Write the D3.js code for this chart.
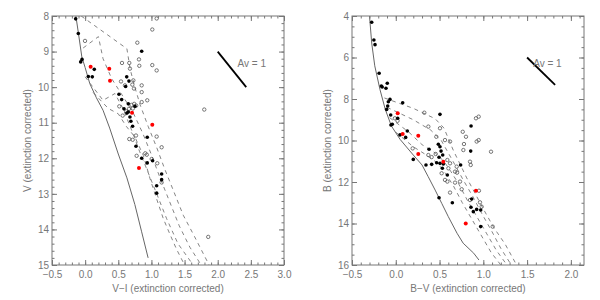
<!DOCTYPE html>
<html>
<head>
<meta charset="utf-8">
<script src="https://cdn.jsdelivr.net/npm/d3@7"></script>
<style>
  body { margin: 0; background: #fff; }
  svg text { font-family: "Liberation Sans", Arial, sans-serif; font-size: 10px; fill: #777; }
</style>
</head>
<body>
<div id="chart"></div>
<script>
const width = 600;
const height = 300;

// ---- left panel: V vs V-I ----
const leftZams = [[-0.14, 8.0], [-0.10, 8.5], [-0.05, 9.15], [0.0, 9.45], [0.07, 9.9], [0.17, 10.3], [0.27, 10.65],
  [0.37, 11.15], [0.5, 11.88], [0.63, 12.55], [0.75, 13.3], [0.85, 14.05], [0.95, 14.8]];
const leftIsochrones = [
  [[-0.06, 8.0], [0.63, 8.92], [0.68, 9.5], [0.75, 10.0], [0.83, 10.5], [0.95, 11.1], [1.08, 11.7], [1.2, 12.3],
    [1.33, 12.9], [1.48, 13.6], [1.65, 14.2], [1.87, 15.0]],
  [[-0.03, 8.9], [0.2, 8.58], [0.27, 9.2], [0.4, 9.76], [0.55, 10.2], [0.72, 10.7], [0.87, 11.3], [1.0, 11.9],
    [1.12, 12.5], [1.27, 13.2], [1.42, 13.9], [1.58, 14.5], [1.75, 15.0]],
  [[0.0, 9.71], [0.27, 10.37], [0.45, 10.18], [0.57, 10.6], [0.7, 11.2], [0.82, 11.8], [0.95, 12.4], [1.08, 13.0],
    [1.23, 13.7], [1.4, 14.4], [1.63, 15.0]],
  [[0.12, 10.15], [0.35, 10.6], [0.5, 10.75], [0.62, 11.1], [0.75, 11.4], [0.88, 11.93], [0.98, 12.58],
    [1.08, 13.15], [1.18, 13.7], [1.28, 14.14], [1.38, 14.56], [1.5, 15.0]]
];
const leftFilled = [[-0.143, 8.08], [-0.103, 8.49], [-0.067, 9.29], [-0.047, 9.22], [0.048, 9.7], [0.108, 9.71],
  [0.138, 9.5], [0.853, 8.99], [0.627, 9.71], [0.661, 9.83], [0.611, 9.98], [0.51, 10.2], [0.551, 10.35],
  [0.651, 10.47], [0.752, 10.54], [0.586, 10.61], [0.651, 10.7], [0.676, 10.84], [0.63, 10.73], [0.69, 10.96],
  [0.716, 11.1], [0.937, 11.41], [0.767, 11.66], [0.853, 12.0], [0.937, 12.13], [1.018, 12.07], [1.154, 12.44],
  [1.154, 12.6], [1.079, 12.77], [1.079, 12.98]];
const leftOpen = [[-0.002, 8.7], [1.079, 8.07], [1.013, 8.38], [0.787, 8.75], [0.812, 9.22], [0.556, 9.32],
  [0.666, 9.32], [0.676, 9.48], [0.817, 9.4], [1.013, 9.38], [1.079, 9.53], [0.541, 9.84], [0.601, 9.95],
  [0.727, 9.81], [0.712, 9.93], [0.737, 10.04], [0.853, 9.95], [0.853, 10.14], [0.937, 10.37], [0.853, 10.42],
  [0.515, 10.54], [0.566, 10.8], [0.661, 10.61], [0.7, 10.5], [0.74, 10.47], [0.77, 10.52], [0.62, 10.68],
  [0.72, 10.6], [1.797, 10.63], [0.666, 11.46], [0.717, 11.48], [0.767, 11.36], [1.079, 11.39], [1.154, 11.69],
  [0.777, 11.93], [0.907, 11.86], [0.93, 11.9], [1.004, 12.02], [1.088, 12.14], [1.154, 12.68], [1.857, 14.21]];
const leftRed = [[0.083, 9.43], [0.364, 9.48], [0.375, 9.82], [0.707, 10.72], [1.013, 11.06], [0.812, 12.27]];
const leftAv = [[2.0, 9.0], [2.43, 10.0]];
const leftXTicks = [-0.5, 0.0, 0.5, 1.0, 1.5, 2.0, 2.5, 3.0];
const leftYTicks = [8, 9, 10, 11, 12, 13, 14, 15];

// ---- right panel: B vs B-V ----
const rightZams = [[-0.30, 4.0], [-0.275, 5.3], [-0.24, 6.4], [-0.18, 7.55], [-0.12, 8.5], [-0.05, 9.3],
  [0.05, 9.95], [0.2, 10.7], [0.3, 11.18], [0.37, 11.74], [0.45, 12.39], [0.525, 13.03], [0.6, 13.67],
  [0.7, 14.47], [0.77, 14.95], [0.89, 15.43], [0.95, 15.76]];
const rightIsochrones = [
  [[-0.13, 7.95], [0.2, 8.45], [0.45, 8.95], [0.55, 9.4], [0.6, 9.9], [0.66, 10.5], [0.73, 11.1], [0.81, 11.8],
    [0.9, 12.5], [1.0, 13.3], [1.12, 14.2], [1.25, 15.0], [1.38, 16.0]],
  [[-0.1, 8.4], [0.2, 9.0], [0.4, 9.5], [0.52, 10.0], [0.6, 10.6], [0.68, 11.2], [0.77, 11.9], [0.88, 12.7],
    [0.98, 13.5], [1.1, 14.4], [1.2, 15.2], [1.32, 16.0]],
  [[-0.07, 8.9], [0.15, 9.6], [0.3, 10.2], [0.45, 10.6], [0.55, 11.0], [0.63, 11.5], [0.72, 12.1], [0.82, 12.9],
    [0.93, 13.7], [1.04, 14.5], [1.15, 15.3], [1.27, 16.0]],
  [[0.0, 9.6], [0.2, 10.3], [0.35, 10.7], [0.48, 11.1], [0.57, 11.6], [0.66, 12.2], [0.76, 13.0], [0.87, 13.8],
    [0.98, 14.6], [1.09, 15.4], [1.2, 16.0]]
];
const rightFilled = [[-0.275, 4.3], [-0.25, 5.16], [-0.237, 5.38], [-0.19, 6.76], [-0.165, 7.37], [-0.155, 7.42],
  [-0.112, 7.48], [-0.097, 7.24], [-0.066, 8.02], [-0.085, 8.13], [-0.092, 8.34], [-0.104, 8.5], [-0.058, 8.77],
  [0.022, 8.93], [0.079, 8.18], [-0.055, 9.25], [-0.04, 9.22], [0.048, 9.73], [0.113, 9.85], [0.132, 9.54],
  [0.505, 8.74], [0.2, 10.91], [0.38, 10.42], [0.345, 11.18], [0.41, 11.15], [0.486, 10.18], [0.505, 10.3],
  [0.517, 10.51], [0.536, 10.7], [0.494, 10.81], [0.467, 11.07], [0.505, 11.1], [0.543, 11.13], [0.532, 11.34],
  [0.589, 11.66], [0.741, 11.18], [0.856, 10.51], [0.86, 9.3], [0.494, 12.76], [0.646, 13.0], [0.867, 12.82],
  [0.859, 13.22], [0.886, 13.43], [0.924, 13.32], [0.97, 13.35], [0.97, 14.15]];
const rightOpen = [[0.326, 8.66], [0.372, 9.33], [0.505, 9.41], [-0.01, 8.93], [0.02, 9.05], [0.463, 9.82],
  [0.562, 9.98], [0.62, 10.05], [0.765, 9.58], [0.802, 9.82], [0.916, 8.93], [0.947, 8.85], [0.779, 10.17],
  [0.924, 10.05], [0.947, 9.98], [0.193, 10.38], [0.372, 10.7], [0.41, 10.8], [0.456, 10.65], [0.589, 10.94],
  [0.62, 11.1], [0.696, 11.26], [0.677, 11.5], [0.7, 11.55], [0.601, 11.34], [0.524, 11.58], [0.562, 11.9],
  [0.589, 11.98], [0.677, 12.03], [0.734, 11.98], [0.753, 12.35], [0.62, 12.51], [0.772, 10.46], [0.848, 11.02],
  [0.856, 11.18], [0.848, 12.87], [0.95, 12.42], [0.962, 12.98], [0.981, 13.19], [1.107, 14.15], [1.088, 10.54]];
const rightRed = [[0.022, 8.69], [0.079, 9.69], [0.257, 9.77], [0.257, 10.65], [0.543, 11.02], [0.916, 12.42],
  [0.799, 14.0]];
const rightAv = [[1.5, 6.0], [1.82, 7.32]];
const rightXTicks = [-0.5, 0.0, 0.5, 1.0, 1.5, 2.0];
const rightYTicks = [4, 6, 8, 10, 12, 14, 16];

const svg = d3.select("#chart")
  .append("svg")
  .attr("width", width)
  .attr("height", height);

const axisColor = "#777";
const plotTop = 16, plotBottom = 265, plotW = 232;

function drawPanel(p) {
  const x = d3.scaleLinear().domain(p.xDomain).range([p.left, p.left + plotW]);
  const y = d3.scaleLinear().domain(p.yDomain).range([plotTop, plotBottom]);
  const g = svg.append("g");

  g.append("clipPath").attr("id", p.id + "-clip")
    .append("rect")
    .attr("x", p.left).attr("y", plotTop)
    .attr("width", plotW).attr("height", plotBottom - plotTop);

  const line = d3.line().x(d => x(d[0])).y(d => y(d[1]));
  const inner = g.append("g").attr("clip-path", `url(#${p.id}-clip)`);

  // model curves
  inner.append("path").datum(p.zams)
    .attr("d", line).attr("fill", "none")
    .attr("stroke", "#666").attr("stroke-width", 1);
  inner.selectAll("path.iso")
    .data(p.isochrones)
    .enter().append("path")
    .attr("class", "iso")
    .attr("d", line).attr("fill", "none")
    .attr("stroke", "#777").attr("stroke-width", 0.9)
    .attr("stroke-dasharray", "4,4");

  // stars
  inner.selectAll("circle.open")
    .data(p.open)
    .enter().append("circle")
    .attr("class", "open")
    .attr("cx", d => x(d[0])).attr("cy", d => y(d[1]))
    .attr("r", 1.7)
    .attr("fill", "none").attr("stroke", "#555").attr("stroke-width", 0.8);
  inner.selectAll("circle.filled")
    .data(p.filled)
    .enter().append("circle")
    .attr("class", "filled")
    .attr("cx", d => x(d[0])).attr("cy", d => y(d[1]))
    .attr("r", 1.8).attr("fill", "#000");
  inner.selectAll("circle.red")
    .data(p.red)
    .enter().append("circle")
    .attr("class", "red")
    .attr("cx", d => x(d[0])).attr("cy", d => y(d[1]))
    .attr("r", 2).attr("fill", "#f00");

  // reddening vector
  g.append("path").datum(p.av)
    .attr("d", line).attr("stroke", "#000").attr("stroke-width", 1.8);
  g.append("text")
    .attr("x", x(p.avLabel[0])).attr("y", y(p.avLabel[1]))
    .text("Av = 1");

  // axes: IDL style box with inward ticks on all sides
  const minorX = d3.range(p.xDomain[0], p.xDomain[1] + 1e-9, p.xMinor);
  const minorY = d3.range(p.yDomain[0], p.yDomain[1] + 1e-9, p.yMinor);
  const axes = [
    [d3.axisBottom(x).tickValues(p.xTicks).tickFormat(d3.format(".1f")), 0, plotBottom, 6],
    [d3.axisTop(x).tickValues(p.xTicks).tickFormat(""), 0, plotTop, 0],
    [d3.axisLeft(y).tickValues(p.yTicks).tickFormat(d3.format("d")), p.left, 0, 3],
    [d3.axisRight(y).tickValues(p.yTicks).tickFormat(""), p.left + plotW, 0, 0],
    [d3.axisBottom(x).tickValues(minorX).tickFormat(""), 0, plotBottom, 0, true],
    [d3.axisTop(x).tickValues(minorX).tickFormat(""), 0, plotTop, 0, true],
    [d3.axisLeft(y).tickValues(minorY).tickFormat(""), p.left, 0, 0, true],
    [d3.axisRight(y).tickValues(minorY).tickFormat(""), p.left + plotW, 0, 0, true]
  ];
  axes.forEach(([ax, tx, ty, pad, minor]) => {
    const a = g.append("g")
      .attr("transform", `translate(${tx},${ty})`)
      .call(ax.tickSize(minor ? -2.5 : -5).tickSizeOuter(0).tickPadding(pad));
    a.select(".domain").remove();
    a.selectAll("line").attr("stroke", axisColor);
    a.selectAll("text").attr("fill", axisColor).attr("font-size", 10)
      .attr("font-family", "'Liberation Sans', Arial, sans-serif");
  });
  g.append("rect")
    .attr("x", p.left).attr("y", plotTop)
    .attr("width", plotW).attr("height", plotBottom - plotTop)
    .attr("fill", "none").attr("stroke", axisColor).attr("stroke-width", 1);

  g.append("text")
    .attr("x", p.left + plotW / 2).attr("y", 292)
    .attr("text-anchor", "middle")
    .text(p.xLabel);
  g.append("text")
    .attr("transform", `translate(${p.left - 21},${(plotTop + plotBottom) / 2}) rotate(-90)`)
    .attr("text-anchor", "middle")
    .text(p.yLabel);
}

drawPanel({
  id: "left", left: 52,
  xDomain: [-0.5, 3.0], yDomain: [8, 15],
  xTicks: leftXTicks, yTicks: leftYTicks, xMinor: 0.1, yMinor: 0.2,
  zams: leftZams, isochrones: leftIsochrones,
  filled: leftFilled, open: leftOpen, red: leftRed,
  av: leftAv, avLabel: [2.3, 9.44],
  xLabel: "V\u2212I (extinction corrected)", yLabel: "V (extinction corrected)"
});

drawPanel({
  id: "right", left: 352,
  xDomain: [-0.5, 2.15], yDomain: [4, 16],
  xTicks: rightXTicks, yTicks: rightYTicks, xMinor: 0.1, yMinor: 0.5,
  zams: rightZams, isochrones: rightIsochrones,
  filled: rightFilled, open: rightOpen, red: rightRed,
  av: rightAv, avLabel: [1.57, 6.46],
  xLabel: "B\u2212V (extinction corrected)", yLabel: "B (extinction corrected)"
});
</script>
</body>
</html>
